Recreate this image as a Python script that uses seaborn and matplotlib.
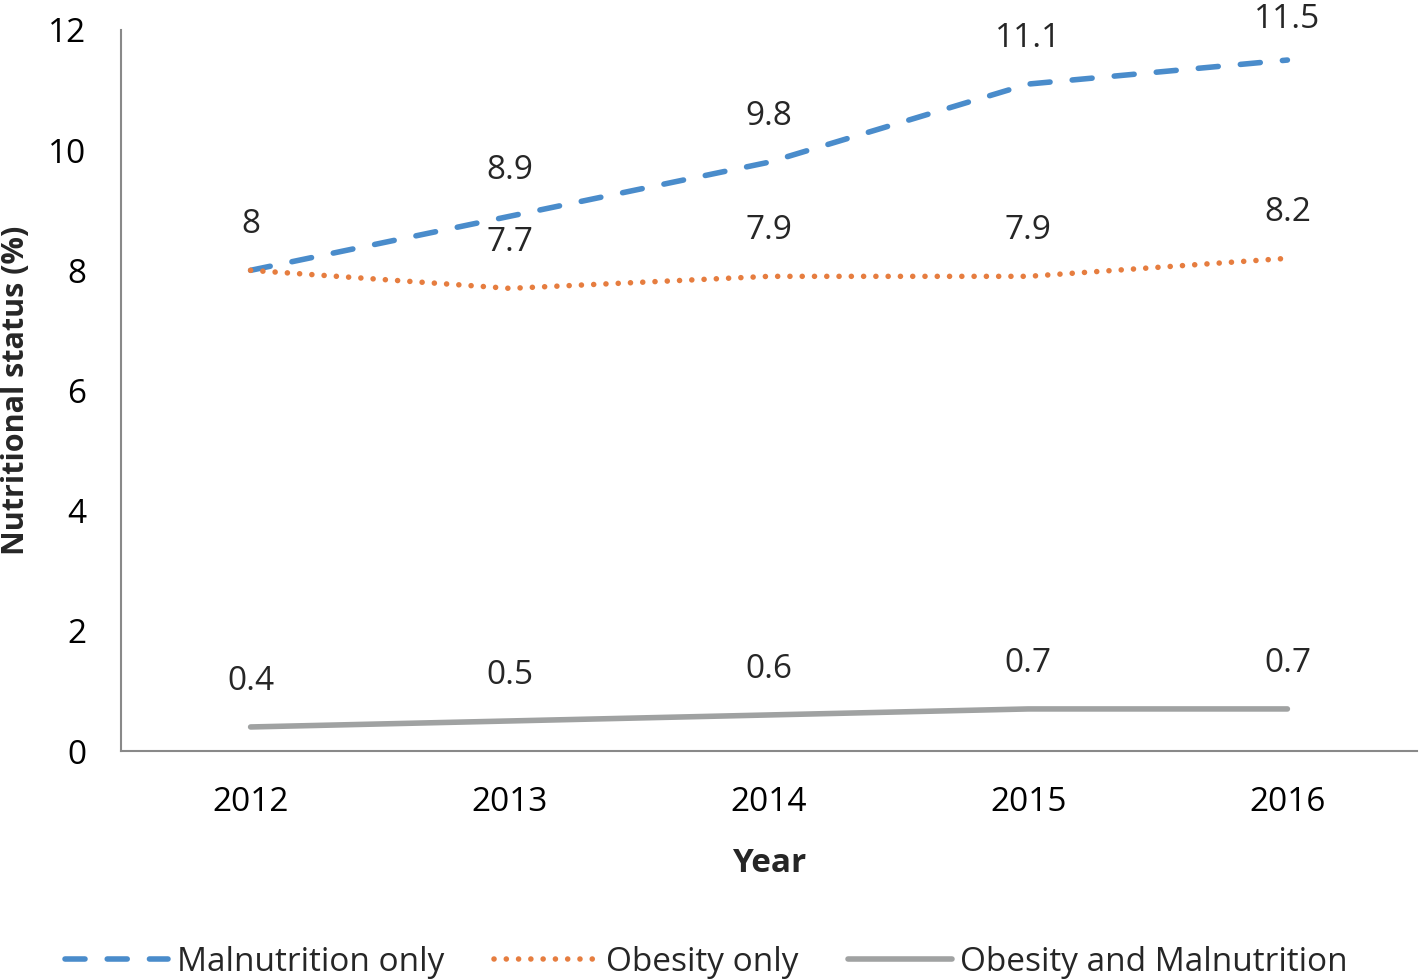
import numpy as np
import pandas as pd
import matplotlib
matplotlib.use("Agg")
import matplotlib.pyplot as plt
import seaborn as sns
from matplotlib.ticker import FixedLocator

years = [2012, 2013, 2014, 2015, 2016]
malnutrition_only = [8.0, 8.9, 9.8, 11.1, 11.5]
obesity_only = [8.0, 7.7, 7.9, 7.9, 8.2]
obesity_and_malnutrition = [0.4, 0.5, 0.6, 0.7, 0.7]
series_names = ["Malnutrition only", "Obesity only", "Obesity and Malnutrition"]
label_text_mal = ["8", "8.9", "9.8", "11.1", "11.5"]
label_text_ob = ["", "7.7", "7.9", "7.9", "8.2"]
label_text_both = ["0.4", "0.5", "0.6", "0.7", "0.7"]

sns.set_style("white")
plt.rcParams['font.family'] = ['Open Sans', 'DejaVu Sans']

FS = 24
fig = plt.figure(figsize=(14.24, 9.8), dpi=100)
ax = fig.add_axes([121/1424, 1-751/980, (1417-121)/1424, (751-30)/980])

colors = ["#4A8CCB", "#E67D3F", "#A0A2A2"]
styles = [(0, (3.6, 4.0)), (0, (0.01, 2.2)), "-"]
data_list = [malnutrition_only, obesity_only, obesity_and_malnutrition]
handles = []
for name, vals, c, ls in zip(series_names, data_list, colors, styles):
    df = pd.DataFrame({"Year": years, "Value": vals})
    sns.lineplot(data=df, x="Year", y="Value", ax=ax, color=c, linewidth=4.0,
                 linestyle=ls, label=name, legend=False)
    ln = ax.lines[-1]
    ln.set_solid_capstyle("round")
    ln.set_dash_capstyle("round")
    handles.append(ln)

for labels, vals in [(label_text_mal, malnutrition_only), (label_text_ob, obesity_only),
                     (label_text_both, obesity_and_malnutrition)]:
    for x, v, t in zip(years, vals, labels):
        if t:
            off = 33 if v < 11.3 else 29
            ax.annotate(t, (x, v), xytext=(0, off), textcoords="offset points",
                        ha="center", va="center", fontsize=FS, annotation_clip=False)

ax.set_xlim(2011.5, 2016.5)
ax.set_ylim(0, 12)
ax.set_yticks([0, 2, 4, 6, 8, 10, 12])
ax.set_xticks(years)
ax.set_xticklabels([str(y) for y in years])
ax.xaxis.set_minor_locator(FixedLocator([2011.5, 2012.5, 2013.5, 2014.5, 2015.5, 2016.5]))
ax.tick_params(axis="x", which="major", length=0, pad=25, labelsize=FS, labelcolor="black")
ax.tick_params(axis="x", which="minor", length=8, width=1.5, color="#898989", direction="out")
ax.tick_params(axis="y", length=8, width=1.5, color="#898989", direction="out", pad=17,
               labelsize=FS, labelcolor="black")

for s in ["top", "right"]:
    ax.spines[s].set_visible(False)
for s in ["left", "bottom"]:
    ax.spines[s].set_color("#898989")
    ax.spines[s].set_linewidth(1.5)

ax.set_xlabel("Year", fontsize=FS, fontweight="bold", labelpad=20)
ax.set_ylabel("Nutritional status (%)", fontsize=22, fontweight="bold")
ax.yaxis.label.set_verticalalignment("center")
ax.yaxis.set_label_coords((16 - 121) / 1296, 0.5)
ax.grid(False)

fig.legend(handles=handles, labels=series_names, loc="center",
           bbox_to_anchor=(0.496, 1 - 962/980), ncol=3, frameon=False, fontsize=FS,
           handlelength=3.1, columnspacing=1.5, handletextpad=0.25)

fig.savefig("out.png", dpi=100)
